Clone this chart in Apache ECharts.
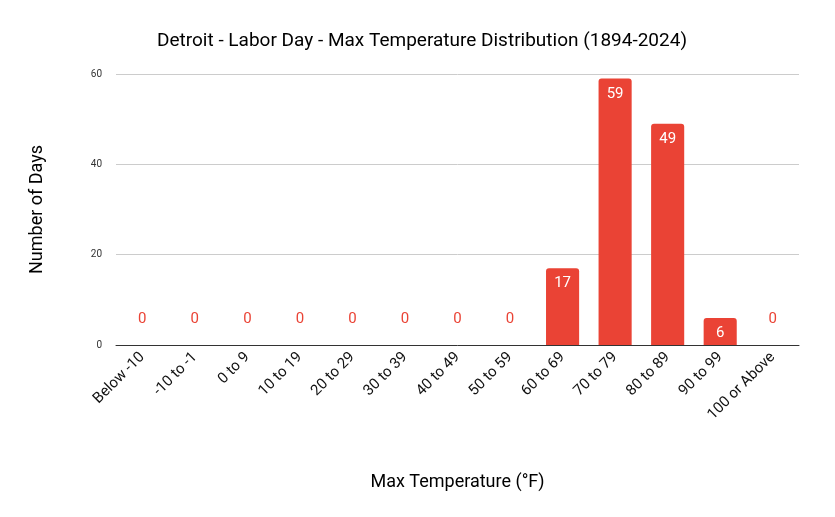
<!DOCTYPE html>
<html><head><meta charset="utf-8">
<script src="https://cdn.jsdelivr.net/npm/echarts@6/dist/echarts.min.js"></script>
<style>html,body{margin:0;padding:0;background:#fff}#c{width:835px;height:517px}</style>
</head><body><div id="c"></div>
<script>
const categories = ["Below -10","-10 to -1","0 to 9","10 to 19","20 to 29","30 to 39","40 to 49","50 to 59","60 to 69","70 to 79","80 to 89","90 to 99","100 or Above"];
const counts = [0,0,0,0,0,0,0,0,17,59,49,6,0];
const yTicks = [0,20,40,60];
const chart = echarts.init(document.getElementById('c'));
chart.setOption({
  animation:false,
  title:{text:'Detroit - Labor Day - Max Temperature Distribution (1894-2024)',left:417,top:27,textAlign:'center',
    textStyle:{fontFamily:'Roboto',fontSize:19,fontWeight:'normal',color:'#000'}},
  grid:{left:116,right:36,top:74,bottom:172},
  xAxis:{type:'category',data:categories,name:'Max Temperature (°F)',nameLocation:'middle',nameGap:128,
    nameTextStyle:{fontFamily:'Roboto',fontSize:18,color:'#000'},
    axisTick:{show:false},axisLine:{lineStyle:{color:'#333'}},
    axisLabel:{rotate:45,interval:0,fontFamily:'Roboto',fontSize:15,color:'#111',margin:10}},
  yAxis:{type:'value',min:0,max:60,interval:20,name:'Number of Days',nameLocation:'middle',nameGap:70,
    nameTextStyle:{fontFamily:'Roboto',fontSize:18,color:'#000'},
    axisLabel:{fontFamily:'Roboto',fontSize:10,color:'#333',margin:14},
    splitLine:{lineStyle:{color:'#ccc'}}},
  series:[{type:'bar',barWidth:'63%',itemStyle:{color:'#ea4335',borderRadius:[3,3,0,0]},
    data:counts.map(v=>({value:v,label:v===0?
      {show:true,position:'top',distance:18,color:'#ea4335',fontFamily:'Roboto',fontSize:15}:
      {show:true,position:'insideTop',distance:8,color:'#fff',fontFamily:'Roboto',fontSize:15}}))}]
});
</script></body></html>
